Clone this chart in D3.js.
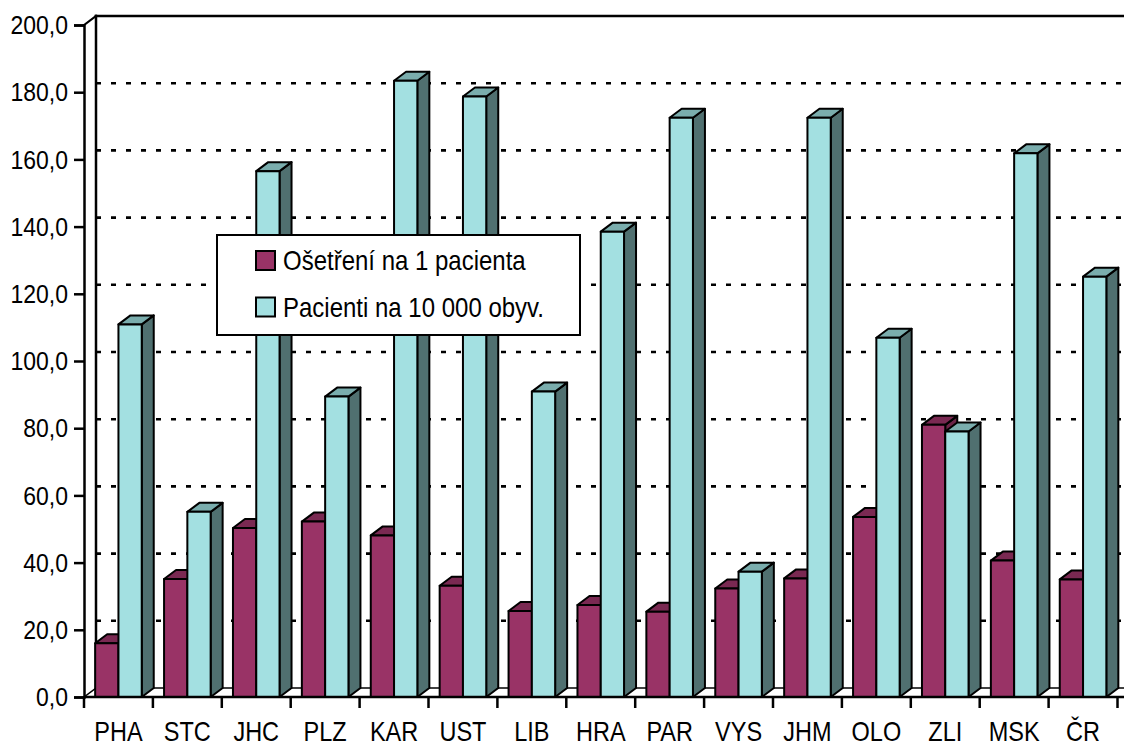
<!DOCTYPE html>
<html><head><meta charset="utf-8">
<script src="https://cdn.jsdelivr.net/npm/d3@7"></script>
<style>
html,body{margin:0;padding:0;background:#fff;}
svg text{font-family:"Liberation Sans",Arial,sans-serif;fill:#000;}
</style></head>
<body>
<svg id="c" width="1124" height="747"></svg>
<script>
const categories = ["PHA","STC","JHC","PLZ","KAR","UST","LIB","HRA","PAR","VYS","JHM","OLO","ZLI","MSK","ČR"];
const osetreni = [16.0,35.1,50.3,52.2,48.1,33.1,25.6,27.4,25.4,32.3,35.3,53.6,81.0,40.6,35.0];
const pacienti = [110.9,55.1,156.5,89.4,183.4,178.7,90.9,138.5,172.4,37.3,172.4,106.9,79.0,161.8,125.1];
const yTickValues = [0,20,40,60,80,100,120,140,160,180,200];
const seriesNames = ["Ošetření na 1 pacienta","Pacienti na 10 000 obyv."];

const colors = [
  {front:"#993366", top:"#7a2952", side:"#6b2447"},
  {front:"#a3e0e1", top:"#7aadad", side:"#507070"}
];

const svg = d3.select("#c");
const dx = 12, dy = -9;
const left = 84, right = 1117.5, yBottom = 697, yTop = 25;
const x = d3.scaleBand().domain(categories).range([left, right]).padding(0);
const y = d3.scaleLinear().domain([0,200]).range([yBottom, yTop]);
const bw = x.bandwidth();
const barOff = 0.162*bw, barW = 0.338*bw;
const locale = d3.formatLocale({decimal:",", thousands:" ", grouping:[3], currency:["",""]});
const fmt = locale.format(".1f");

// back wall gridlines (dotted)
const wallRight = 1124;
svg.append("g").selectAll("line").data(yTickValues.filter(v=>v>0 && v<200)).join("line")
  .attr("x1", left+dx).attr("x2", wallRight)
  .attr("y1", d=>y(d)+dy).attr("y2", d=>y(d)+dy)
  .attr("stroke","#000").attr("stroke-width",2.6).attr("stroke-dasharray","5,10");

// walls edges
const frame = svg.append("g").attr("stroke","#000").attr("fill","none").attr("stroke-linecap","square");
frame.append("line").attr("x1",left+dx).attr("x2",wallRight).attr("y1",y(200)+dy).attr("y2",y(200)+dy).attr("stroke-width",2.5);
frame.append("line").attr("x1",left+dx).attr("x2",left+dx).attr("y1",y(200)+dy).attr("y2",y(0)+dy).attr("stroke-width",2.5);
frame.append("line").attr("x1",left).attr("x2",left+dx).attr("y1",y(200)).attr("y2",y(200)+dy).attr("stroke-width",2);
frame.append("line").attr("x1",left+dx).attr("x2",wallRight).attr("y1",y(0)+dy).attr("y2",y(0)+dy).attr("stroke-width",1.5);
frame.append("line").attr("x1",left).attr("x2",left+dx).attr("y1",y(0)).attr("y2",y(0)+dy).attr("stroke-width",1.5);

// bars
function bar(g, x0, w, v, c){
  const yv = y(v), y0 = y(0);
  g.append("polygon").attr("points", [[x0+w,yv],[x0+w+dx,yv+dy],[x0+w+dx,y0+dy],[x0+w,y0]].join(" "))
    .attr("fill", c.side);
  g.append("polygon").attr("points", [[x0,yv],[x0+dx,yv+dy],[x0+w+dx,yv+dy],[x0+w,yv]].join(" "))
    .attr("fill", c.top);
  g.append("rect").attr("x",x0).attr("y",yv).attr("width",w).attr("height",y0-yv).attr("fill",c.front);
}
const bars = svg.append("g").attr("stroke","#000").attr("stroke-width",2).attr("stroke-linejoin","round");
categories.forEach((cat,i)=>{
  const g = bars.append("g");
  const x0 = x(cat)+barOff;
  bar(g, x0, barW, osetreni[i], colors[0]);
  bar(g, x0+barW, barW, pacienti[i], colors[1]);
});

// y axis
const yAxis = d3.axisLeft(y).tickValues(yTickValues).tickFormat(fmt).tickSize(10).tickPadding(6);
const ga = svg.append("g").attr("transform",`translate(${left},0)`).call(yAxis);
ga.select(".domain").attr("stroke-width",2.5);
ga.selectAll(".tick line").attr("stroke-width",2.5);
ga.selectAll(".tick text").attr("font-size",23).attr("font-family",null)
  .attr("x",null).attr("dy",null)
  .attr("transform","translate(-16,8.7) scale(1,1.12)");

// x axis
const xAxis = d3.axisBottom(x).tickSize(0).tickPadding(0);
const gx = svg.append("g").attr("transform",`translate(0,${yBottom})`).call(xAxis);
gx.select(".domain").remove();
gx.selectAll(".tick text").attr("font-size",23.5).attr("font-family",null)
  .attr("y",0).attr("dy",null).attr("transform","translate(0,44) scale(1,1.2)");
svg.append("line").attr("x1",left).attr("x2",wallRight).attr("y1",yBottom).attr("y2",yBottom)
  .attr("stroke","#000").attr("stroke-width",2.5);
svg.append("g").selectAll("line").data(categories.map(c=>x(c)).concat([right])).join("line")
  .attr("x1",d=>d).attr("x2",d=>d).attr("y1",yBottom).attr("y2",yBottom+11)
  .attr("stroke","#000").attr("stroke-width",2.5);

// legend
const lg = svg.append("g");
lg.append("rect").attr("x",217).attr("y",235).attr("width",363).attr("height",100)
  .attr("fill","#fff").attr("stroke","#000").attr("stroke-width",2);
seriesNames.forEach((n,i)=>{
  const yy = 251 + i*46.5;
  lg.append("rect").attr("x",256).attr("y",yy).attr("width",19).attr("height",19)
    .attr("fill",colors[i].front).attr("stroke","#000").attr("stroke-width",2);
  lg.append("text").attr("font-size",24).attr("transform",`translate(283,${yy+19}) scale(1,1.12)`).text(n);
});
</script>
</body></html>
